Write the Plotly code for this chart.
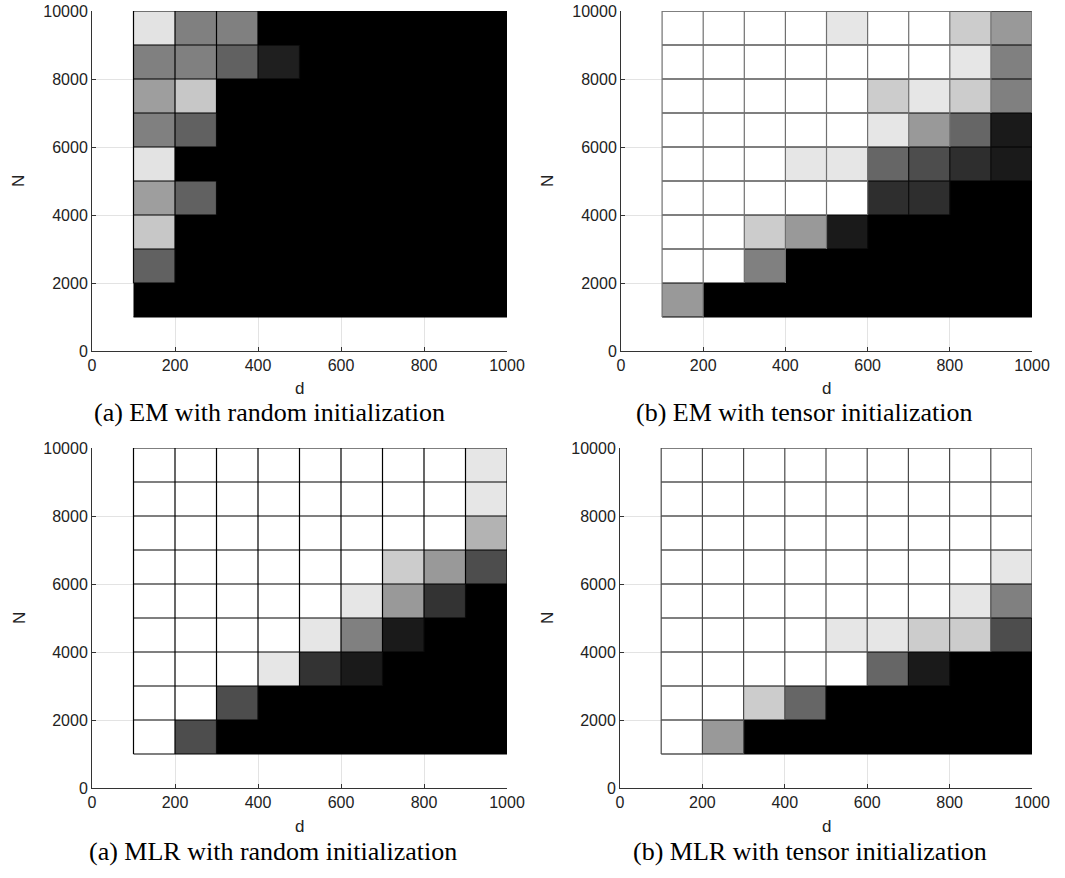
import plotly.graph_objects as go

# Cell edges (d along x, N along y)
d_edges = [100, 200, 300, 400, 500, 600, 700, 800, 900, 1000]
N_edges = [1000, 2000, 3000, 4000, 5000, 6000, 7000, 8000, 9000, 10000]

# Success rates (1 = white, 0 = black); rows listed from top (N 9000-10000) to bottom (N 1000-2000)
em_random = [
    [0.89, 0.5, 0.5, 0, 0, 0, 0, 0, 0],
    [0.5, 0.5, 0.38, 0.12, 0, 0, 0, 0, 0],
    [0.62, 0.78, 0, 0, 0, 0, 0, 0, 0],
    [0.5, 0.38, 0, 0, 0, 0, 0, 0, 0],
    [0.89, 0, 0, 0, 0, 0, 0, 0, 0],
    [0.62, 0.38, 0, 0, 0, 0, 0, 0, 0],
    [0.78, 0, 0, 0, 0, 0, 0, 0, 0],
    [0.38, 0, 0, 0, 0, 0, 0, 0, 0],
    [0, 0, 0, 0, 0, 0, 0, 0, 0],
]
em_tensor = [
    [1, 1, 1, 1, 0.9, 1, 1, 0.8, 0.6],
    [1, 1, 1, 1, 1, 1, 1, 0.9, 0.5],
    [1, 1, 1, 1, 1, 0.8, 0.9, 0.8, 0.5],
    [1, 1, 1, 1, 1, 0.9, 0.6, 0.4, 0.1],
    [1, 1, 1, 0.9, 0.9, 0.4, 0.3, 0.18, 0.1],
    [1, 1, 1, 1, 1, 0.18, 0.18, 0, 0],
    [1, 1, 0.8, 0.6, 0.1, 0, 0, 0, 0],
    [1, 1, 0.5, 0, 0, 0, 0, 0, 0],
    [0.6, 0, 0, 0, 0, 0, 0, 0, 0],
]
mlr_random = [
    [1, 1, 1, 1, 1, 1, 1, 1, 0.9],
    [1, 1, 1, 1, 1, 1, 1, 1, 0.9],
    [1, 1, 1, 1, 1, 1, 1, 1, 0.7],
    [1, 1, 1, 1, 1, 1, 0.8, 0.6, 0.3],
    [1, 1, 1, 1, 1, 0.9, 0.6, 0.2, 0],
    [1, 1, 1, 1, 0.9, 0.5, 0.1, 0, 0],
    [1, 1, 1, 0.9, 0.2, 0.1, 0, 0, 0],
    [1, 1, 0.3, 0, 0, 0, 0, 0, 0],
    [1, 0.3, 0, 0, 0, 0, 0, 0, 0],
]
mlr_tensor = [
    [1, 1, 1, 1, 1, 1, 1, 1, 1],
    [1, 1, 1, 1, 1, 1, 1, 1, 1],
    [1, 1, 1, 1, 1, 1, 1, 1, 1],
    [1, 1, 1, 1, 1, 1, 1, 1, 0.9],
    [1, 1, 1, 1, 1, 1, 1, 0.9, 0.5],
    [1, 1, 1, 1, 0.9, 0.9, 0.8, 0.8, 0.3],
    [1, 1, 1, 1, 1, 0.4, 0.1, 0, 0],
    [1, 1, 0.8, 0.4, 0, 0, 0, 0, 0],
    [1, 0.6, 0, 0, 0, 0, 0, 0, 0],
]

captions = [
    "(a) EM with random initialization",
    "(b) EM with tensor initialization",
    "(a) MLR with random initialization",
    "(b) MLR with tensor initialization",
]
x_ticks = [0, 200, 400, 600, 800, 1000]
y_ticks = [0, 2000, 4000, 6000, 8000, 10000]

panels = [em_random, em_tensor, mlr_random, mlr_tensor]
vline_colors = ["#000000", "#707070", "#000000", "#4a4a4a"]

W, H = 1065, 878
# pixel layout of the plot areas
x_px = [(92, 507), (621, 1032), (92, 507), (620, 1032)]
y_px = [(11, 351), (11, 351), (448, 788), (448, 788)]
cap_px = [(269, 413), (804, 413), (273, 851), (810, 851)]

fig = go.Figure()
tick_font = dict(family="Liberation Sans, Arial, sans-serif", size=16, color="#222")

for i, z in enumerate(panels):
    xa = "x" if i == 0 else f"x{i+1}"
    ya = "y" if i == 0 else f"y{i+1}"
    zb = z[::-1]  # bottom-up rows
    fig.add_trace(go.Heatmap(
        x=d_edges, y=N_edges, z=zb,
        zmin=0, zmax=1,
        colorscale=[[0, "rgb(0,0,0)"], [1, "rgb(255,255,255)"]],
        showscale=False, hoverinfo="skip",
        xaxis=xa, yaxis=ya,
    ))
    # horizontal cell borders (black)
    hx, hy = [], []
    for n in N_edges:
        hx += [d_edges[0], d_edges[-1], None]
        hy += [n, n, None]
    fig.add_trace(go.Scatter(x=hx, y=hy, mode="lines",
                             line=dict(color="#000", width=1.2),
                             hoverinfo="skip", showlegend=False,
                             xaxis=xa, yaxis=ya))
    # vertical cell borders: panel colour next to light cells, dark next to dark cells
    nrow, ncol = len(zb), len(zb[0])
    lx, ly, dx, dy = [], [], [], []
    for j, d in enumerate(d_edges):
        for r in range(nrow):
            left = zb[r][j - 1] if j - 1 >= 0 else 0
            right = zb[r][j] if j < ncol else 0
            m = max(left, right)
            if m >= 0.5:
                lx += [d, d, None]
                ly += [N_edges[r], N_edges[r + 1], None]
            elif m > 0:
                dx += [d, d, None]
                dy += [N_edges[r], N_edges[r + 1], None]
    fig.add_trace(go.Scatter(x=dx, y=dy, mode="lines",
                             line=dict(color="#0a0a0a", width=1.2),
                             hoverinfo="skip", showlegend=False,
                             xaxis=xa, yaxis=ya))
    fig.add_trace(go.Scatter(x=lx, y=ly, mode="lines",
                             line=dict(color=vline_colors[i], width=1.2),
                             hoverinfo="skip", showlegend=False,
                             xaxis=xa, yaxis=ya))

    x0, x1 = x_px[i]
    y0, y1 = y_px[i]
    xkey = "xaxis" if i == 0 else f"xaxis{i+1}"
    ykey = "yaxis" if i == 0 else f"yaxis{i+1}"
    fig.update_layout(**{
        xkey: dict(domain=[x0 / W, x1 / W], range=[0, 1000], anchor=ya,
                   tickvals=x_ticks, tickformat="d", ticks="inside", ticklen=4, tickcolor="#333",
                   showline=True, linecolor="#333", linewidth=1,
                   showgrid=True, gridcolor="#e3e3e3", gridwidth=1,
                   zeroline=False, tickfont=tick_font, fixedrange=True, automargin=False),
        ykey: dict(domain=[1 - y1 / H, 1 - y0 / H], range=[0, 10000], anchor=xa,
                   tickvals=y_ticks, tickformat="d", ticks="inside", ticklen=4, tickcolor="#333",
                   showline=True, linecolor="#333", linewidth=1,
                   showgrid=True, gridcolor="#e3e3e3", gridwidth=1,
                   zeroline=False, tickfont=tick_font, fixedrange=True, automargin=False),
    })
    # axis titles
    fig.add_annotation(x=(x0 + x1) / 2 / W, y=1 - (y1 + 38) / H, xref="paper", yref="paper",
                       xanchor="center", yanchor="middle",
                       text="d", showarrow=False,
                       font=dict(family="Liberation Sans, Arial, sans-serif", size=17, color="#222"))
    fig.add_annotation(x=(x0 - 73) / W, y=1 - (y0 + y1) / 2 / H, xref="paper", yref="paper",
                       xanchor="center", yanchor="middle",
                       text="N", textangle=-90, showarrow=False,
                       font=dict(family="Liberation Sans, Arial, sans-serif", size=17, color="#222"))
    # caption
    cx, cy = cap_px[i]
    fig.add_annotation(x=cx / W, y=1 - cy / H, xref="paper", yref="paper",
                       xanchor="center", yanchor="middle",
                       text=captions[i], showarrow=False,
                       font=dict(family="Liberation Serif, Times New Roman, serif", size=26, color="#000"))

fig.update_layout(width=W, height=H, margin=dict(l=0, r=0, t=0, b=0, autoexpand=False),
                  paper_bgcolor="white", plot_bgcolor="white", showlegend=False)

fig.write_html("out.html", config={"displayModeBar": False},
               post_script="document.body.style.margin='0';document.body.style.overflow='hidden';")
